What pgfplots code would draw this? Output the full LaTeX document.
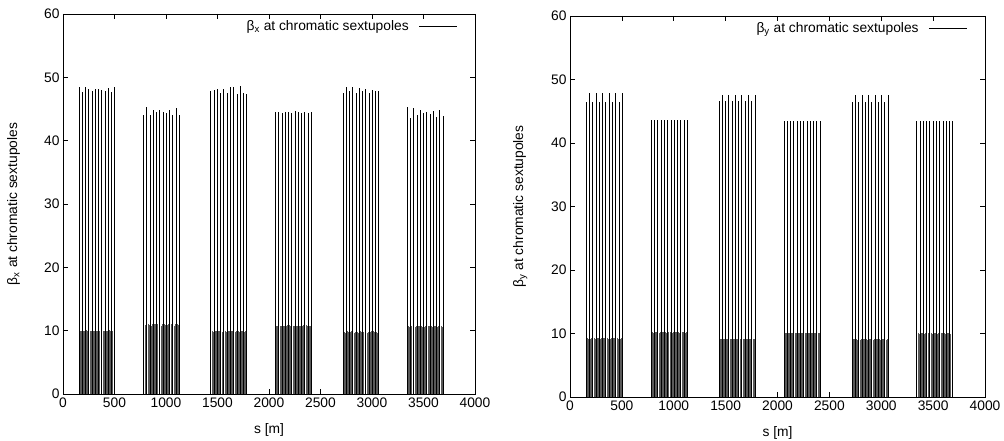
\documentclass[border=0pt]{standalone}
\usepackage{fontspec}
\setmainfont{Liberation Sans}
\usepackage{pgfplots}
\usepackage{pgfplotstable}
\pgfplotsset{compat=1.18}

\pgfplotstableread{
s bx by
155 48.5 46.5
187 47.7 47.8
218 48.4 46.4
250 48.2 47.8
281 47.9 46.5
313 48.2 47.8
345 48.1 46.5
376 48.0 47.8
408 47.8 46.4
439 48.3 47.8
471 47.7 46.5
502 48.5 47.8
166 10.0 9.3
176 10.0 9.2
198 10.0 9.2
208 9.9 9.3
229 10.1 9.3
239 10.0 9.2
261 9.9 9.3
271 10.0 9.3
292 10.0 9.2
302 10.0 9.3
324 10.0 9.3
334 9.9 9.3
356 10.0 9.3
366 10.0 9.2
387 9.9 9.2
397 10.0 9.3
419 10.0 9.3
429 10.0 9.3
450 10.1 9.3
460 10.0 9.2
482 10.0 9.2
492 10.0 9.3
782 44.0 43.6
814 45.3 43.6
845 44.1 43.6
877 44.9 43.6
908 44.5 43.6
940 44.8 43.6
972 44.6 43.6
1003 44.3 43.6
1035 44.9 43.6
1066 44.0 43.6
1098 45.2 43.6
1129 44.0 43.6
793 10.9 10.2
803 11.0 10.1
825 11.1 10.2
835 10.9 10.2
856 10.8 10.1
866 11.0 10.2
888 11.0 10.2
898 11.1 10.2
919 11.1 10.2
929 10.8 10.1
951 10.7 10.2
961 11.0 10.2
983 11.0 10.1
993 10.9 10.2
1014 10.9 10.2
1024 11.1 10.2
1046 11.0 10.2
1056 10.8 10.1
1077 10.8 10.2
1087 11.0 10.2
1109 11.1 10.1
1119 10.9 10.2
1435 47.8 46.6
1467 48.0 47.6
1498 48.1 46.6
1530 47.6 47.6
1561 48.2 46.6
1593 47.5 47.6
1625 48.4 46.6
1656 48.5 47.6
1688 47.4 46.6
1719 48.6 47.6
1751 47.6 46.6
1782 47.4 47.5
1446 9.9 9.2
1456 9.8 9.2
1478 10.0 9.2
1488 9.9 9.1
1509 9.9 9.1
1519 9.9 9.2
1541 9.8 9.2
1551 9.9 9.2
1572 9.9 9.2
1582 9.8 9.1
1604 9.9 9.2
1614 9.9 9.2
1636 10.0 9.1
1646 9.9 9.2
1667 9.8 9.2
1677 9.9 9.2
1699 9.9 9.2
1709 9.8 9.1
1730 9.9 9.2
1740 9.9 9.2
1762 9.8 9.1
1772 9.9 9.2
2062 44.6 43.5
2094 44.5 43.5
2125 44.4 43.5
2157 44.5 43.5
2188 44.6 43.5
2220 44.4 43.5
2252 44.7 43.5
2283 44.5 43.5
2315 44.4 43.5
2346 44.6 43.5
2378 44.3 43.5
2409 44.5 43.5
2073 10.8 10.1
2083 10.8 10.0
2105 10.8 10.1
2115 10.7 10.1
2136 10.7 10.0
2146 10.8 10.1
2168 10.8 10.1
2178 10.9 10.1
2199 10.9 10.1
2209 10.8 10.0
2231 10.8 10.1
2241 10.7 10.1
2263 10.7 10.1
2273 10.8 10.1
2294 10.8 10.0
2304 10.8 10.1
2326 10.8 10.1
2336 10.9 10.1
2357 10.9 10.1
2367 10.8 10.0
2389 10.8 10.1
2399 10.7 10.1
2718 47.5 46.5
2750 48.4 47.5
2781 47.9 46.5
2813 48.4 47.5
2844 47.6 46.5
2876 48.3 47.5
2908 47.9 46.5
2939 48.1 47.5
2971 47.6 46.5
3002 48.0 47.5
3034 47.9 46.5
3065 47.8 47.5
2729 9.8 9.1
2739 9.7 9.1
2761 9.9 9.1
2771 9.8 9.0
2792 9.8 9.0
2802 9.9 9.1
2824 9.7 9.1
2834 9.8 9.1
2855 9.8 9.1
2865 9.7 9.0
2887 9.9 9.1
2897 9.8 9.1
2919 9.8 9.0
2929 9.8 9.1
2950 9.7 9.1
2960 9.8 9.1
2982 9.8 9.1
2992 9.9 9.0
3013 9.9 9.1
3023 9.8 9.1
3045 9.8 9.0
3055 9.7 9.1
3342 45.3 43.4
3374 43.6 43.4
3405 45.1 43.4
3437 44.0 43.4
3468 44.8 43.4
3500 44.3 43.4
3532 44.5 43.4
3563 44.2 43.4
3595 44.7 43.4
3626 43.8 43.4
3658 44.9 43.4
3689 43.9 43.4
3353 10.7 10.0
3363 10.6 9.9
3385 10.8 10.0
3395 10.7 10.0
3416 10.6 9.9
3426 10.7 10.0
3448 10.7 10.0
3458 10.8 10.0
3479 10.8 10.0
3489 10.6 9.9
3511 10.6 10.0
3521 10.7 10.0
3543 10.7 9.9
3553 10.8 10.0
3574 10.7 10.0
3584 10.6 10.0
3606 10.8 10.0
3616 10.7 9.9
3637 10.6 10.0
3647 10.7 10.0
3669 10.7 9.9
3679 10.6 10.0
}\sext

\pgfplotsset{
  panel/.style={
    anchor=south west, scale only axis,
    xmin=0, xmax=4000, ymin=0, ymax=60,
    xtick={0,500,...,4000}, ytick={0,10,...,60},
    tick align=inside, major tick length=5pt,
    xtick pos=both, ytick pos=both,
    axis line style={line width=0.8pt, black},
    tick style={line width=0.6pt, black},
    ticklabel style={font=\fontsize{13.8}{16}\selectfont},
    /pgf/number format/assume math mode=true,
    /pgf/number format/set thousands separator={},
    scaled ticks=false,
    xlabel={s [m]},
    every axis x label/.style={at={(axis description cs:0.5,-0.095)}, anchor=center, font=\fontsize{13.8}{16}\selectfont},
    every axis y label/.style={at={(axis description cs:-0.12,0.5)}, rotate=90, anchor=center, font=\fontsize{13.8}{16}\selectfont},
    legend style={draw=none, fill=none, at={(rel axis cs:0.965,0.995)}, anchor=north east, font=\fontsize{13.8}{16}\selectfont},
    legend cell align=right,
    legend plot pos=right,
    legend image code/.code={\path (0pt,0pt); \draw[line width=0.6pt, black] (8pt,0pt) -- (46pt,0pt);},
  },
  comb/.style={ycomb, black, line width=0.7pt, no markers, restrict y to domain=20:60},
  combshort/.style={ycomb, black!65, line width=0.35pt, no markers, restrict y to domain=0:20, forget plot},
}

\begin{document}
\begin{tikzpicture}
\useasboundingbox (0pt,0pt) rectangle (1004pt,441pt);
\begin{axis}[panel, at={(63pt,47pt)}, width=412pt, height=380pt,
  ylabel={β\textsubscript{x} at chromatic sextupoles}]
\addplot[combshort] table[x=s, y=bx] {\sext};
\addplot[comb] table[x=s, y=bx] {\sext};
\addlegendentry{β\textsubscript{x} at chromatic sextupoles}
\end{axis}
\begin{axis}[panel, at={(570pt,44pt)}, width=415pt, height=381pt,
  ylabel={β\textsubscript{y} at chromatic sextupoles}]
\addplot[combshort] table[x=s, y=by] {\sext};
\addplot[comb] table[x=s, y=by] {\sext};
\addlegendentry{β\textsubscript{y} at chromatic sextupoles}
\end{axis}
\end{tikzpicture}
\end{document}
